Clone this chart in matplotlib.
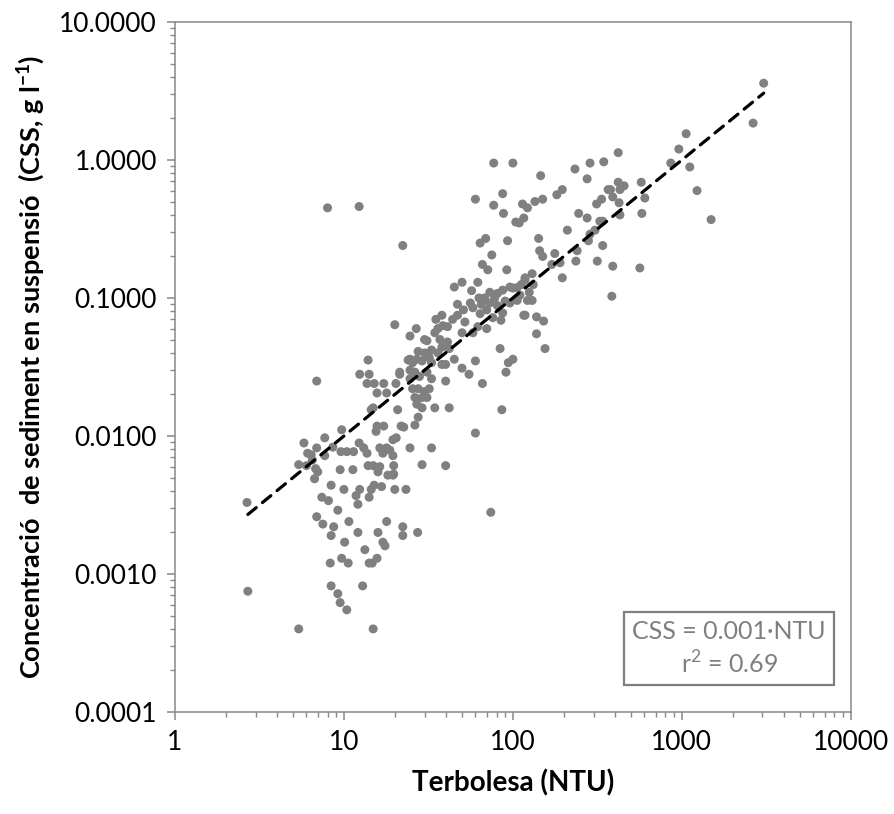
import numpy as np
import matplotlib
matplotlib.use("Agg")
import matplotlib.pyplot as plt
from matplotlib.ticker import LogLocator, FuncFormatter, NullFormatter

plt.rcParams['font.family'] = ['Lato', 'DejaVu Sans']
plt.rcParams['mathtext.fontset'] = 'custom'
plt.rcParams['mathtext.rm'] = 'Lato'
plt.rcParams['mathtext.bf'] = 'Lato:bold'

# Terbolesa (NTU) and CSS (g/l)
ntu = [2.67, 2.7, 5.4, 14.9,
       6.7, 7.0, 8.4, 7.4, 8.1, 10, 9.2, 6.9, 7.5, 8.7, 8.4, 10.7, 12.1, 10.1, 13.3, 8.3,
       9.7, 10.6, 14.1, 15.7, 14.7, 8.4, 9.2, 9.5, 10.4, 12.9, 12.4, 11.8, 12.1, 14.5, 14.1,
       15.1, 16.7, 20, 23.3, 17.9, 22.3, 22.3, 15.9, 17.0, 17.5, 18.2, 19.5, 15.9, 9.5, 11.3,
       20, 24.6, 13.9, 24, 6.9, 12.4, 14.1, 13.7, 15.1, 17.2, 20.3, 21.4, 15.7, 17.9, 14.5,
       14.9, 20.8, 15.7, 17.2, 15.5, 21.8, 22.6, 20.4, 9.7, 7.7, 5.8, 6.9, 6.1, 6.4, 7.7,
       8.6, 6.5, 5.4, 6.0, 6.8, 9.6, 10.4, 11.4, 12.3, 13.1, 13.7, 16.3, 17.9, 17.0, 18.7,
       19.5, 13.9, 14.9, 16.3, 19.7,
       26.8, 38, 34.5, 31, 38.5, 41, 47, 51, 56, 58, 47, 52, 50, 58, 62, 64, 70, 73, 81, 87,
       85, 76, 70, 96, 106, 116, 84, 100, 94, 91, 60, 50, 55, 45, 42, 41, 38, 37, 36, 33,
       32, 30, 27.5, 24.6, 25.5, 27, 29, 33, 38, 40, 24.6, 21.4, 24.6, 26.3, 28, 31, 33, 40,
       25.5, 27.5, 30, 32, 26.3, 29, 31, 27, 29, 27.5, 34.5, 42, 66, 86, 60, 26.3, 19.5,
       24.6, 33,
       29, 40, 19.7, 74, 27.3,
       22.3, 60, 87, 77, 88, 114, 122, 104, 109, 116, 64, 69, 93, 75, 66, 71, 92, 62, 57,
       63, 68, 73, 81, 87, 96, 106, 118, 112,
       100, 146, 233, 286, 345, 420, 275, 196, 182, 150, 135, 366, 378, 420, 455, 575, 430,
       390, 425, 335, 313, 604, 580, 430, 245, 275, 327, 340, 210, 306, 286, 280, 340, 142,
       144, 150, 177, 240, 236, 316, 390, 564, 170, 190, 196, 385, 130, 118, 132, 106, 122,
       130, 100,
       3050, 2640, 1060, 960, 860, 1114, 1230, 1490,
       118, 138, 152, 138, 155,
       8.0, 12.3, 77,
       45, 50, 44, 35, 30, 36, 65, 78, 90, 110, 125]

css = [0.0033, 0.00075, 0.0004, 0.0004,
       0.0049, 0.0055, 0.0044, 0.0036, 0.0034, 0.0041, 0.0029, 0.0026, 0.0023, 0.0022, 0.0019,
       0.0024, 0.0020, 0.0017, 0.0015, 0.0012, 0.0013, 0.0012, 0.0012, 0.0013, 0.0012,
       0.00082, 0.00072, 0.00062, 0.00055, 0.00082, 0.0041, 0.0037, 0.0032, 0.0041, 0.0036,
       0.0044, 0.0043, 0.0041, 0.0041, 0.0024, 0.0022, 0.0019, 0.0020, 0.0017, 0.0016, 0.0052,
       0.0052, 0.0055, 0.0057, 0.0057,
       0.064, 0.053, 0.0355, 0.0355, 0.025, 0.028, 0.028, 0.024, 0.024, 0.024, 0.024, 0.028,
       0.0205, 0.0205, 0.0155, 0.016, 0.0155, 0.0118, 0.0118, 0.0108, 0.0118, 0.0116, 0.0097,
       0.0111, 0.0097, 0.0089, 0.0082, 0.0075, 0.0073, 0.0072, 0.0083, 0.0067, 0.0062, 0.0061,
       0.0058, 0.0077, 0.0077, 0.0077, 0.0089, 0.0082, 0.0075, 0.0082, 0.0082, 0.0075, 0.0079,
       0.0072, 0.0061, 0.0061, 0.006, 0.0061,
       0.060, 0.075, 0.056, 0.049, 0.063, 0.062, 0.090, 0.082, 0.092, 0.085, 0.075, 0.067,
       0.056, 0.056, 0.062, 0.077, 0.082, 0.092, 0.088, 0.078, 0.069, 0.072, 0.060, 0.092,
       0.096, 0.075, 0.043, 0.036, 0.034, 0.029, 0.035, 0.031, 0.028, 0.036, 0.043, 0.048,
       0.044, 0.050, 0.040, 0.042, 0.037, 0.040, 0.041, 0.036, 0.034, 0.036, 0.035, 0.034,
       0.033, 0.033, 0.030, 0.029, 0.026, 0.029, 0.027, 0.029, 0.026, 0.025, 0.022, 0.022,
       0.021, 0.022, 0.019, 0.019, 0.019, 0.017, 0.016, 0.0137, 0.016, 0.016, 0.024, 0.0155,
       0.0105, 0.012, 0.0094, 0.0082, 0.0082,
       0.0062, 0.0061, 0.0053, 0.0028, 0.0020,
       0.24, 0.52, 0.57, 0.47, 0.41, 0.48, 0.45, 0.355, 0.35, 0.38, 0.25, 0.27, 0.26, 0.205,
       0.175, 0.16, 0.16, 0.13, 0.113, 0.1, 0.10, 0.11, 0.108, 0.114, 0.12, 0.119, 0.135, 0.125,
       0.95, 0.77, 0.86, 0.95, 0.97, 1.13, 0.73, 0.61, 0.56, 0.52, 0.50, 0.61, 0.61, 0.69,
       0.65, 0.69, 0.61, 0.54, 0.49, 0.52, 0.48, 0.53, 0.41, 0.40, 0.41, 0.38, 0.36, 0.36,
       0.31, 0.31, 0.29, 0.26, 0.24, 0.27, 0.22, 0.20, 0.21, 0.22, 0.185, 0.185, 0.17, 0.165,
       0.175, 0.18, 0.14, 0.103, 0.15, 0.14, 0.125, 0.10, 0.096, 0.096, 0.118,
       3.6, 1.85, 1.55, 1.2, 0.95, 0.89, 0.6, 0.37,
       0.075, 0.073, 0.068, 0.055, 0.043,
       0.45, 0.46, 0.95,
       0.12, 0.13, 0.07, 0.07, 0.05, 0.06, 0.09, 0.10, 0.095, 0.105, 0.11]

fit_slope = 0.001
fit_range = [2.7, 3050]

GREY = '#808080'

fig = plt.figure(figsize=(8.94, 8.14), dpi=100)
ax = fig.add_axes([0.1957, 0.1253, 0.756, 0.8477])

ax.scatter(ntu, css, s=42, color=GREY, edgecolors='none', zorder=3)

xf = np.array(fit_range)
ax.plot(xf, fit_slope * xf, color='black', lw=2.3, ls=(0, (3.4, 2.5)),
        dash_capstyle='round', zorder=4)

ax.set_xscale('log')
ax.set_yscale('log')
ax.set_xlim(1, 10000)
ax.set_ylim(0.0001, 10)

ax.xaxis.set_major_locator(LogLocator(base=10, numticks=10))
ax.yaxis.set_major_locator(LogLocator(base=10, numticks=10))
ax.xaxis.set_minor_locator(LogLocator(base=10, subs=np.arange(2, 10), numticks=20))
ax.yaxis.set_minor_locator(LogLocator(base=10, subs=np.arange(2, 10), numticks=20))
ax.xaxis.set_major_formatter(FuncFormatter(lambda v, p: f"{v:g}"))
ax.yaxis.set_major_formatter(FuncFormatter(lambda v, p: f"{v:.4f}"))
ax.xaxis.set_minor_formatter(NullFormatter())
ax.yaxis.set_minor_formatter(NullFormatter())

for s in ax.spines.values():
    s.set_color('#888888')
    s.set_linewidth(1.1)
ax.tick_params(which='major', direction='out', length=6, width=1.1, color='#888888',
               labelsize=19, pad=7, top=False, right=False)
ax.tick_params(which='minor', direction='out', length=3.5, width=1.0, color='#888888',
               top=False, right=False)

ax.set_xlabel('Terbolesa (NTU)', fontsize=20, fontweight='bold', labelpad=10)
ax.set_ylabel(r'Concentració  de sediment en suspensió  (CSS, g l$^{\mathbf{-1}}$)',
              fontsize=19.5, fontweight='bold', labelpad=9)

ax.text(0.82, 0.092, 'CSS = 0.001·NTU\nr$^{2}$ = 0.69', transform=ax.transAxes,
        ha='center', va='center', fontsize=18, color='#7f7f7f', linespacing=1.3,
        bbox=dict(boxstyle='square,pad=0.32', fc='white', ec='#7f7f7f', lw=1.6),
        zorder=5)

fig.savefig('out.png', dpi=100)
